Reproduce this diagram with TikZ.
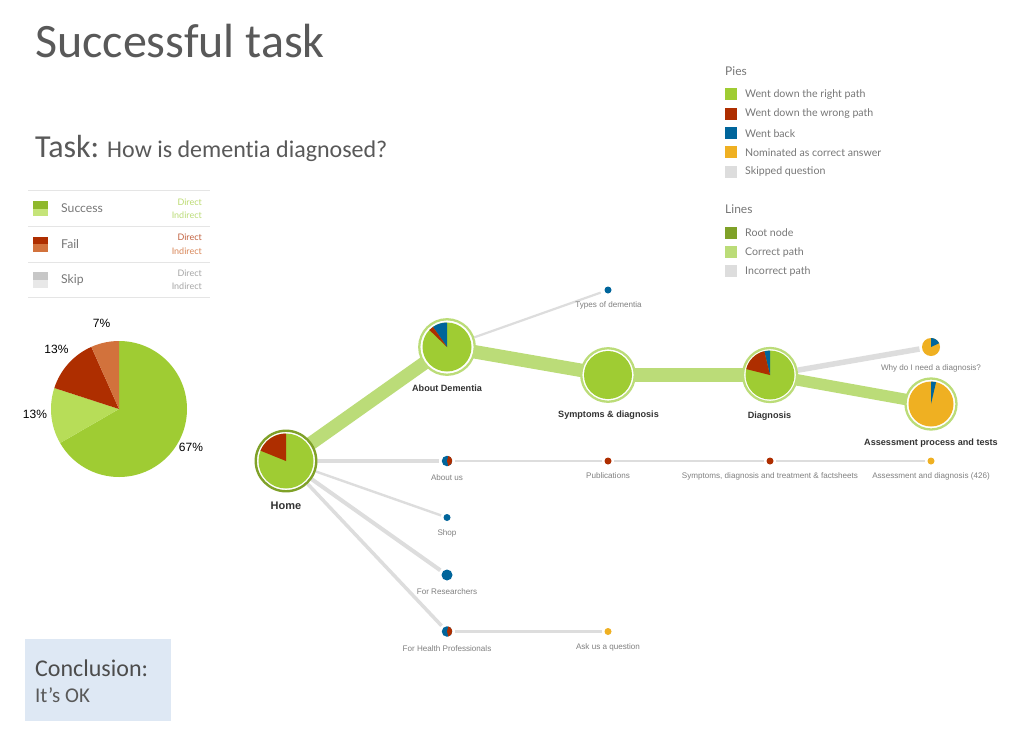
\documentclass[tikz,border=0pt]{standalone}
\usepackage{fontspec}
\setmainfont{Liberation Sans}
\newfontfamily\calfont[Ligatures=NoCommon]{Carlito}
\newfontfamily\legfont{Lato}
\usetikzlibrary{backgrounds}
\definecolor{cgreen}{HTML}{9FCC33}
\definecolor{cdgreen}{HTML}{8FB82C}
\definecolor{clight}{HTML}{B7DD58}
\definecolor{cred}{HTML}{AE2E00}
\definecolor{corange}{HTML}{D2723C}
\definecolor{cblue}{HTML}{00659B}
\definecolor{cyellow}{HTML}{EFB022}
\definecolor{cgrey}{HTML}{DDDDDD}
\definecolor{cpath}{HTML}{BBDC78}
\definecolor{croot}{HTML}{7FA128}
\definecolor{ctitle}{HTML}{595959}
\definecolor{cleg}{HTML}{777777}
\definecolor{cbox}{HTML}{DEE8F4}
\tikzset{
  x=1pt,y=1pt,
  bignode/.style={circle,draw=cpath,line width=2.3pt,fill=white,inner sep=0pt},
  rootnode/.style={circle,draw=croot,line width=2.4pt,fill=white,inner sep=0pt},
  dotnode/.style={circle,inner sep=0pt,fill=#1},
  mainlab/.style={font=\bfseries\fontsize{9.1}{11}\selectfont,text=black!80,inner sep=0pt},
  sublab/.style={font=\fontsize{8.1}{10}\selectfont,text=black!50,inner sep=0pt},
  goodpath/.style={draw=cpath,line cap=butt,shorten <=-3pt,shorten >=-3pt},
  badpath/.style={draw=cgrey,shorten <=2.5pt,shorten >=2.5pt},
  rootpath/.style={draw=cgrey,shorten <=0pt,shorten >=2.5pt},
  pietext/.style={font=\fontsize{12}{14}\selectfont,text=black,inner sep=0pt},
  legtext/.style={font=\legfont\fontsize{10.6}{12}\selectfont,text=cleg,anchor=west,inner sep=0pt},
  leghead/.style={font=\legfont\fontsize{12}{14}\selectfont,text=cleg,anchor=west,inner sep=0pt},
  legbox/.style={minimum size=12pt,inner sep=0pt,anchor=west},
  keytext/.style={font=\legfont\fontsize{12.2}{14}\selectfont,text=cleg,anchor=west,inner sep=0pt},
  dirtext/.style={font=\legfont\fontsize{9}{11}\selectfont,anchor=east,inner sep=0pt},
  rulerline/.style={draw=black!10,line width=0.8pt},
}
\newcommand{\pieslice}[5]{\fill[#5] (#1.center) -- ++(#3:#2 pt) arc[start angle=#3,end angle=#4,radius=#2 pt] -- cycle;}
\newcommand{\pieround}[3]{\fill[#3] (#1.center) circle[radius=#2 pt];}
\begin{document}
\begin{tikzpicture}
\useasboundingbox (0,0) rectangle (1030,-728);

% titles
\node[font=\calfont\fontsize{48}{56}\selectfont,text=ctitle,anchor=base west,inner sep=0pt] (title) at (35,-57) {Successful task};
\node[font=\calfont\fontsize{32}{38}\selectfont,text=ctitle,anchor=base west,inner sep=0pt] (tasklab) at (35,-157) {Task:\hspace{8pt}{\fontsize{24}{28}\selectfont How is dementia diagnosed?}};

% conclusion box
\node[fill=cbox,minimum width=146pt,minimum height=82pt,inner sep=0pt,anchor=north west] (concbox) at (25,-639) {};
\node[font=\calfont\fontsize{24}{28}\selectfont,text=ctitle!85!black,anchor=base west,inner sep=0pt] (conc) at (35,-676) {Conclusion:};
\node[font=\calfont\fontsize{21}{25}\selectfont,text=ctitle,anchor=base west,inner sep=0pt] (concok) at (35,-702) {It’s OK};

% left key
\draw[rulerline] (28,-190.7) -- (209.5,-190.7);
\draw[rulerline] (28,-226.5) -- (209.5,-226.5);
\draw[rulerline] (28,-262) -- (209.5,-262);
\draw[rulerline] (28,-297.5) -- (209.5,-297.5);
\fill[cdgreen] (32.5,-201) rectangle (48,-208.5);
\fill[clight!80!white] (32.5,-208.5) rectangle (48,-216);
\fill[cred] (32.5,-236.5) rectangle (48,-244);
\fill[corange] (32.5,-244) rectangle (48,-252);
\fill[black!22] (32.5,-272) rectangle (48,-280);
\fill[black!9] (32.5,-280) rectangle (48,-288);
\node[keytext] (ksucc) at (61,-208.5) {Success};
\node[keytext] (kfail) at (61,-244.5) {Fail};
\node[keytext] (kskip) at (61,-280) {Skip};
\node[dirtext,text=cgreen!70!white] (d1) at (202,-202) {Direct};
\node[dirtext,text=cpath] (i1) at (202,-215.5) {Indirect};
\node[dirtext,text=cred!75!white] (d2) at (202,-237.5) {Direct};
\node[dirtext,text=corange!85!white] (i2) at (202,-251) {Indirect};
\node[dirtext,text=black!35] (d3) at (202,-273) {Direct};
\node[dirtext,text=black!35] (i3) at (202,-286.5) {Indirect};

% large pie
\coordinate (bigpie) at (119,-409);
\pieslice{bigpie}{68}{90}{-150}{cgreen}
\pieslice{bigpie}{68}{210}{162}{clight}
\pieslice{bigpie}{68}{162}{114}{cred}
\pieslice{bigpie}{68}{114}{90}{corange}
\node[pietext] (p67) at (191,-447) {67\%};
\node[pietext] (p13a) at (35,-414) {13\%};
\node[pietext] (p13b) at (56.5,-349) {13\%};
\node[pietext] (p7) at (101.5,-323) {7\%};

% right legend
\node[leghead] (hpies) at (725,-71.5) {Pies};
\node[legbox,fill=cgreen] (b1) at (725,-94) {};
\node[legbox,fill=cred] (b2) at (725,-113.5) {};
\node[legbox,fill=cblue] (b3) at (725,-133) {};
\node[legbox,fill=cyellow] (b4) at (725,-152) {};
\node[legbox,fill=cgrey] (b5) at (725,-171.5) {};
\node[legtext] (t1) at (745,-94.5) {Went down the right path};
\node[legtext] (t2) at (745,-114) {Went down the wrong path};
\node[legtext] (t3) at (745,-133.5) {Went back};
\node[legtext] (t4) at (745,-152.5) {Nominated as correct answer};
\node[legtext] (t5) at (745,-172) {Skipped question};
\node[leghead] (hlines) at (725,-209.5) {Lines};
\node[legbox,fill=croot] (b6) at (725,-232.5) {};
\node[legbox,fill=cpath] (b7) at (725,-252) {};
\node[legbox,fill=cgrey] (b8) at (725,-271) {};
\node[legtext] (t6) at (745,-233) {Root node};
\node[legtext] (t7) at (745,-252.5) {Correct path};
\node[legtext] (t8) at (745,-271.5) {Incorrect path};

% tree nodes
\node[rootnode,minimum size=60.5pt] (home) at (286,-461) {};
\node[bignode,minimum size=55.5pt] (about) at (447,-347) {};
\node[bignode,minimum size=53.5pt] (sympt) at (608,-375) {};
\node[bignode,minimum size=54pt] (diag) at (770,-375) {};
\node[bignode,minimum size=51pt] (assess) at (931,-404) {};
\node[dotnode=cyellow,minimum size=18pt] (why) at (931,-347) {};
\node[dotnode=cblue,minimum size=7pt] (types) at (608,-290) {};
\node[dotnode=cblue,minimum size=10.5pt] (aboutus) at (447,-461) {};
\node[dotnode=cred,minimum size=7pt] (pubs) at (608,-461) {};
\node[dotnode=cred,minimum size=7pt] (sdt) at (770,-461) {};
\node[dotnode=cyellow,minimum size=7pt] (ad) at (931,-461) {};
\node[dotnode=cblue,minimum size=7pt] (shop) at (447,-517.5) {};
\node[dotnode=cblue,minimum size=11pt] (res) at (447,-575) {};
\node[dotnode=cblue,minimum size=10.5pt] (health) at (447,-631.5) {};
\node[dotnode=cyellow,minimum size=7pt] (ask) at (608,-631.5) {};

% connectors
\begin{scope}[on background layer]
\fill[white] (0,0) rectangle (1030,-728);
\draw[goodpath,line width=13.5pt] (home) -- (about);
\draw[goodpath,line width=13.5pt] (about) -- (sympt);
\draw[goodpath,line width=13.5pt] (sympt) -- (diag);
\draw[goodpath,line width=11.5pt] (diag) -- (assess);
\draw[rootpath,line width=2.2pt,shorten >=4pt] (about) -- (types);
\draw[rootpath,line width=5.5pt] (diag) -- (why);
\draw[rootpath,line width=3.5pt] (home) -- (aboutus);
\draw[badpath,line width=2.4pt] (aboutus) -- (pubs);
\draw[badpath,line width=2.4pt] (pubs) -- (sdt);
\draw[badpath,line width=2.4pt] (sdt) -- (ad);
\draw[rootpath,line width=2.4pt] (home) -- (shop);
\draw[rootpath,line width=4pt] (home) -- (res);
\draw[rootpath,line width=3.5pt] (home) -- (health);
\draw[badpath,line width=2.4pt] (health) -- (ask);
\end{scope}

% pies on nodes
\pieround{home}{27.5}{cgreen}
\pieslice{home}{27.5}{90}{158}{cred}
\pieround{about}{24.5}{cgreen}
\pieslice{about}{24.5}{90}{125}{cblue}
\pieslice{about}{24.5}{125}{136}{cred}
\pieround{sympt}{24}{cgreen}
\pieround{diag}{24.5}{cgreen}
\pieslice{diag}{24.5}{90}{103.5}{cblue}
\pieslice{diag}{24.5}{103.5}{166}{cred}
\pieround{assess}{22.5}{cyellow}
\pieslice{assess}{22.5}{77}{90}{cblue}
\pieslice{why}{9}{25}{90}{cblue}
\pieslice{aboutus}{5.25}{-75}{75}{cred}
\pieslice{health}{5.25}{-75}{75}{cred}

% tree labels
\node[mainlab,font=\bfseries\fontsize{11}{13}\selectfont] (lhome) at (286,-505.5) {Home};
\node[mainlab] (labout) at (447,-388.5) {About Dementia};
\node[mainlab] (lsympt) at (608.5,-415.5) {Symptoms \& diagnosis};
\node[mainlab] (ldiag) at (769.5,-416.5) {Diagnosis};
\node[mainlab] (lassess) at (931,-443) {Assessment process and tests};
\node[sublab] (ltypes) at (608.5,-305) {Types of dementia};
\node[sublab] (lwhy) at (931,-368) {Why do I need a diagnosis?};
\node[sublab] (labus) at (447,-478) {About us};
\node[sublab] (lpubs) at (608,-476) {Publications};
\node[sublab] (lsdt) at (770,-476) {Symptoms, diagnosis and treatment \& factsheets};
\node[sublab] (lad) at (931,-476) {Assessment and diagnosis (426)};
\node[sublab] (lshop) at (447,-533) {Shop};
\node[sublab] (lres) at (447,-592) {For Researchers};
\node[sublab] (lhealth) at (447,-648.5) {For Health Professionals};
\node[sublab] (lask) at (608,-647) {Ask us a question};
\end{tikzpicture}
\end{document}
